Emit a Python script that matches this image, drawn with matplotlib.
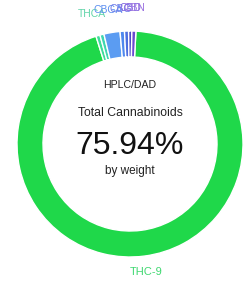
import numpy as np
import matplotlib
matplotlib.use("Agg")
import matplotlib.pyplot as plt

plt.rcParams["font.family"] = ["Liberation Sans", "DejaVu Sans"]

# cannabinoid share of the doughnut (relative)
names = ["THC-9", "THCA", "CBDA", "CBGA", "CBG", "CBDV", "CBD", "CBN"]
values = [94.3, 0.58, 0.58, 2.3, 0.63, 0.58, 0.46, 0.57]
labels = ["THC-9", "THCA", "", "CBGA", "CBG", "", "CBD", "CBN"]
colors = ["#1fd84a", "#3fdc9a", "#3fd6b0", "#5b9cf2", "#4f88ee", "#4c6ee0", "#4a48c8", "#6a4ad0"]
label_colors = ["#3fd870", "#5fd4a8", "#5fd4a8", "#5b8ef0", "#6f7ae8", "#7a70e0", "#7a60e0", "#9a70e0"]

total_pct = "75.94%"

fig = plt.figure(figsize=(2.52, 2.82), dpi=100)
ax = fig.add_axes([0, 0, 1, 1])

start = 87
ax.pie(values, colors=colors, startangle=start, counterclock=False, radius=1.0,
       wedgeprops=dict(width=0.23, edgecolor="white", linewidth=1.0))

# labels outside the ring at each segment's middle
vals = np.array(values)
cum = np.cumsum(vals) - vals / 2
ang = np.deg2rad(start - 360 * cum / vals.sum())
for i, lab in enumerate(labels):
    if not lab:
        continue
    r = 1.14 if i == 0 else 1.2
    ax.text(r * np.cos(ang[i]), r * np.sin(ang[i]), lab, color=label_colors[i],
            fontsize=8 if i == 0 else 7.5, ha="center", va="center")

ax.text(0, 0.52, "HPLC/DAD", ha="center", va="center", fontsize=7.6, color="#222222")
ax.text(0, 0.27, "Total Cannabinoids", ha="center", va="center", fontsize=8.8, color="#222222")
ax.text(0, -0.02, total_pct, ha="center", va="center", fontsize=23, color="#111111")
ax.text(0, -0.235, "by weight", ha="center", va="center", fontsize=8.5, color="#222222")

ax.set_xlim(-130 / 113, (252 - 130) / 113)
ax.set_ylim(-(282 - 144) / 113, 144 / 113)
ax.set_aspect("auto")
ax.axis("off")

fig.savefig("out.png", dpi=100)
